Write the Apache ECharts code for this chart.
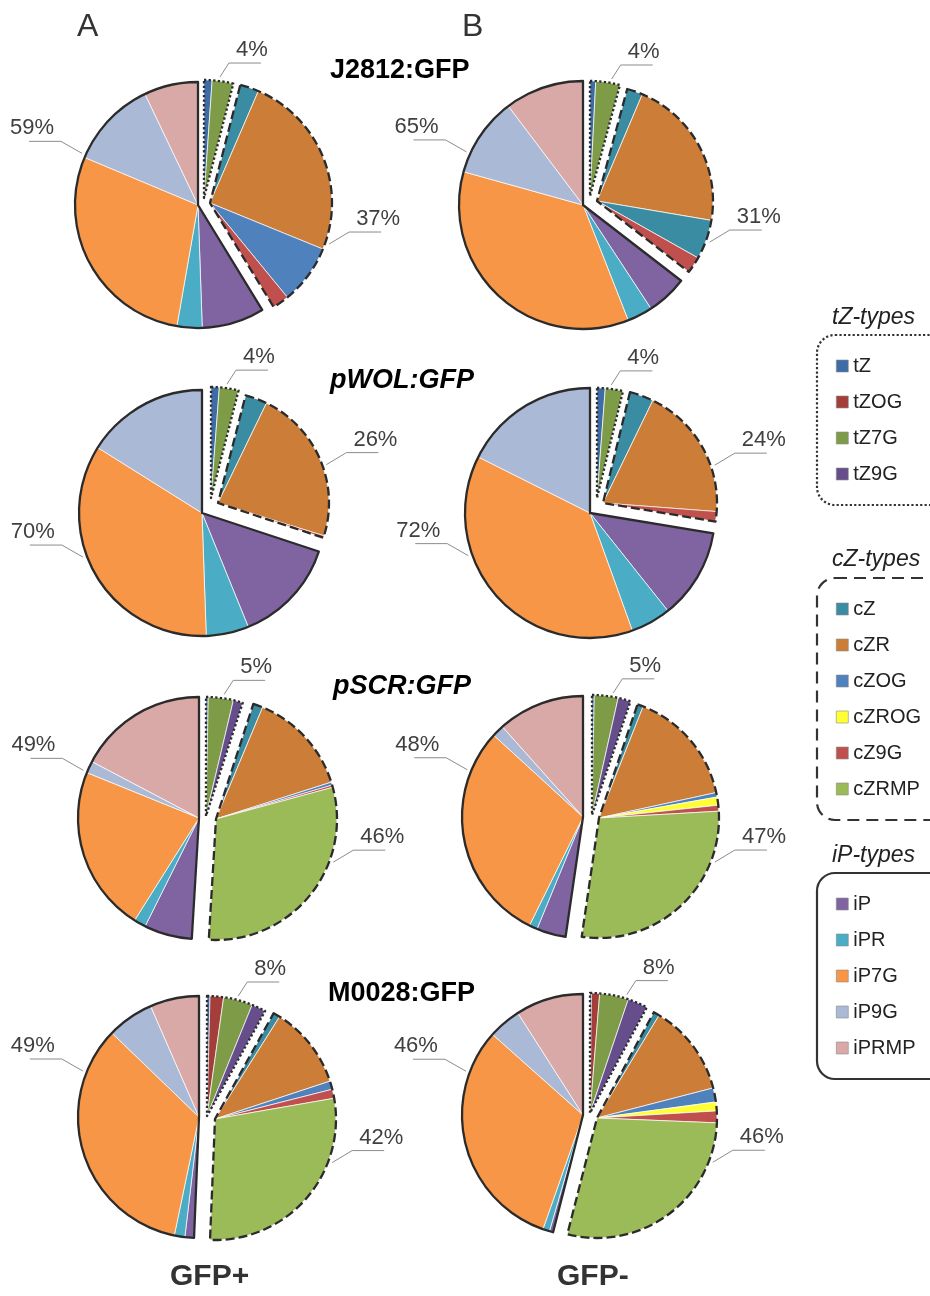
<!DOCTYPE html>
<html>
<head>
<meta charset="utf-8">
<script src="https://cdn.jsdelivr.net/npm/echarts@6/dist/echarts.min.js"></script>
<style>
  html, body { margin: 0; padding: 0; background: #fff; }
  #chart { width: 930px; height: 1296px; }
</style>
</head>
<body>
<div id="chart"></div>
<script>
const compounds = ['tZ', 'tZOG', 'tZ7G', 'tZ9G', 'cZ', 'cZR', 'cZOG', 'cZROG', 'cZ9G', 'cZRMP', 'iP', 'iPR', 'iP7G', 'iP9G', 'iPRMP'];
const groupNames = ['tZ-types', 'cZ-types', 'iP-types'];
const groupMembers = [
  ['tZ', 'tZOG', 'tZ7G', 'tZ9G'],
  ['cZ', 'cZR', 'cZOG', 'cZROG', 'cZ9G', 'cZRMP'],
  ['iP', 'iPR', 'iP7G', 'iP9G', 'iPRMP'],
];
const lineNames = ['J2812:GFP', 'pWOL:GFP', 'pSCR:GFP', 'M0028:GFP'];
const columnLetters = ['A', 'B'];
const sortNames = ['GFP+', 'GFP-'];

// share of total cytokinin (%), in the order of `compounds`
const j2812Pos = [1.1, 0, 2.9, 0, 2.5, 24.7, 7.9, 0, 2.2, 0, 8.2, 3.3, 28.6, 11.6, 7.1];
const j2812Neg = [0.8, 0, 3.4, 0, 2.2, 21.3, 5.5, 0, 2.3, 0, 5.3, 3.3, 35.3, 10.4, 10.3];
const pwolPos = [1.2, 0, 2.8, 0, 3.2, 22.6, 0, 0, 0.3, 0, 13.8, 5.6, 34.5, 16.1, 0];
const pwolNeg = [1.2, 0, 2.6, 0, 3.4, 19.0, 0, 0, 1.4, 0, 11.7, 5.2, 37.9, 17.6, 0];
const pscrPos = [0.3, 0, 3.4, 1.3, 1.3, 13.8, 0.4, 0, 0.3, 30.2, 6.4, 1.6, 22.2, 1.6, 17.3];
const pscrNeg = [0.3, 0, 3.2, 1.7, 0.8, 15.6, 0.6, 1.1, 0.8, 28.2, 3.9, 1.1, 29.5, 1.6, 11.6];
const m0028Pos = [0.4, 1.8, 3.9, 1.9, 0.9, 10.9, 1.1, 0, 1.2, 28.2, 1.2, 1.4, 33.7, 6.2, 6.5];
const m0028Neg = [0.2, 1.1, 3.9, 2.7, 0.8, 12.4, 1.9, 1.2, 1.6, 28.5, 0.5, 0.9, 31.4, 4.4, 9.1];
const values = [[j2812Pos, j2812Neg], [pwolPos, pwolNeg], [pscrPos, pscrNeg], [m0028Pos, m0028Neg]];

const colors = {
  tZ: '#3D6CA6', tZOG: '#A33E3B', tZ7G: '#7E9C48', tZ9G: '#654E8B',
  cZ: '#3A8CA3', cZR: '#CC7D37', cZOG: '#4F81BD', cZROG: '#FFFF33', cZ9G: '#C0504D', cZRMP: '#9BBB59',
  iP: '#8064A2', iPR: '#4BACC6', iP7G: '#F79646', iP9G: '#AAB9D6', iPRMP: '#D9A9A8',
};
// the cZOG wedge of J2812 GFP- is drawn in teal in the figure
const colorOverrides = [{ row: 0, col: 1, name: 'cZOG', color: '#3A8CA3' }];

// per pie, per group (tZ, cZ, iP): wedge tip x, y and radius in px
const pieGeom = [
  [[[204, 198, 118], [210, 203, 122], [198, 205, 123]],
   [[590, 196, 115], [597, 201, 116], [583, 205, 124]]],
  [[[211, 498, 111], [218, 503, 111], [202, 513, 123]],
   [[597, 498, 110], [603, 503, 114], [590, 513, 125]]],
  [[[206, 816, 119], [216, 819, 121], [199, 818, 121]],
   [[592, 815, 120], [599, 818, 120], [583, 817, 121]]],
  [[[207, 1116, 120], [215, 1119, 121], [199, 1117, 121]],
   [[590, 1113, 120], [597, 1118, 120], [583, 1115, 121]]],
];
// where each group's leader line leaves the pie (deg clockwise from 12 o'clock)
const labelAngles = [
  [[7.5, 109, 294], [10.5, 110, 294.5]],
  [[8, 70.5, 249.7], [7.2, 71.3, 250.7]],
  [[8.5, 110.2, 292.4], [9.9, 110.8, 292.2]],
  [[14.6, 110.4, 291.6], [17.3, 110.9, 290.5]],
];
const outlineDash = ['dotted', [9, 4], 'solid'];
const font = "'Liberation Sans', Arial, sans-serif";

const series = [];
values.forEach((rowVals, i) => {
  rowVals.forEach((vals, j) => {
    const total = vals.reduce((s, v) => s + v, 0);
    let acc = 0;
    groupMembers.forEach((members, g) => {
      const [gx, gy, gr] = pieGeom[i][j][g];
      const items = members
        .map((name) => ({ name, value: vals[compounds.indexOf(name)] }))
        .filter((it) => it.value > 0);
      const gsum = items.reduce((s, it) => s + it.value, 0);
      const startAngle = 90 - (360 * acc) / total;
      const endAngle = 90 - (360 * (acc + gsum)) / total;
      acc += gsum;

      series.push({
        type: 'pie',
        silent: true,
        animation: false,
        center: [gx, gy],
        radius: [0, gr],
        startAngle,
        endAngle,
        clockwise: true,
        label: { show: false },
        labelLine: { show: false },
        itemStyle: { borderColor: '#ffffff', borderWidth: 0.7 },
        data: items.map((it) => {
          const ov = colorOverrides.find((o) => o.row === i && o.col === j && o.name === it.name);
          return { name: it.name, value: it.value, itemStyle: { color: ov ? ov.color : colors[it.name] } };
        }),
      });

      const ang = (labelAngles[i][j][g] * Math.PI) / 180;
      const ax = gx + (gr + 4) * Math.sin(ang);
      const ay = gy - (gr + 4) * Math.cos(ang);
      const elbow = g === 2 ? [ax - 21, ay - 12] : g === 1 ? [ax + 20, ay - 12] : [ax + 9, ay - 14];
      const dir = g === 2 ? -1 : 1;
      const lineEnd = [elbow[0] + dir * 32, elbow[1]];

      series.push({
        type: 'pie',
        silent: true,
        animation: false,
        avoidLabelOverlap: false,
        center: [gx, gy],
        radius: [0, gr],
        startAngle,
        endAngle,
        clockwise: true,
        itemStyle: {
          color: 'rgba(0,0,0,0)',
          borderColor: '#2b2b2b',
          borderWidth: 2.3,
          borderType: outlineDash[g],
        },
        label: {
          show: true,
          position: 'outside',
          formatter: () => `${Math.round(gsum)}%`,
          fontSize: 22,
          color: '#404040',
          fontFamily: font,
        },
        labelLine: { show: true, lineStyle: { color: '#8c8c8c', width: 1 } },
        labelLayout: () => ({
          x: elbow[0] + (g === 2 ? -7 : 7),
          y: elbow[1] - 13,
          align: g === 2 ? 'right' : 'left',
          verticalAlign: 'middle',
          labelLinePoints: [[ax, ay], elbow, lineEnd],
        }),
        data: [{ name: groupNames[g], value: gsum }],
      });
    });
  });
});

const titles = [];
columnLetters.forEach((t, j) => {
  titles.push({ text: t, left: [77, 462][j], top: 11, padding: 0,
    textStyle: { fontSize: 32, fontWeight: 'normal', color: '#333', fontFamily: font } });
});
lineNames.forEach((t, i) => {
  titles.push({ text: t, left: [330, 330, 333, 328][i], top: [57, 367, 673, 980][i], padding: 0,
    textStyle: { fontSize: 27, fontWeight: 'bold', fontStyle: i === 1 || i === 2 ? 'italic' : 'normal', color: '#000', fontFamily: font } });
});
sortNames.forEach((t, j) => {
  titles.push({ text: t, left: [170, 557][j], top: 1262, padding: 0,
    textStyle: { fontSize: 30, fontWeight: 'bold', color: '#333', fontFamily: font } });
});
groupNames.forEach((t, g) => {
  titles.push({ text: t, left: 832, top: [306, 548, 844][g], padding: 0,
    textStyle: { fontSize: 23, fontWeight: 'normal', fontStyle: 'italic', color: '#222', fontFamily: font } });
});

const legends = groupMembers.map((names, g) => ({
  orient: 'vertical',
  left: 817,
  top: [335, 578, 873][g],
  data: names,
  icon: 'rect',
  itemWidth: 12,
  itemHeight: 12,
  itemGap: 16,
  padding: [21, 60, 21, 19],
  borderColor: '#333',
  borderWidth: 2.2,
  borderType: g === 0 ? 'dotted' : g === 1 ? [12, 7] : 'solid',
  borderRadius: 18,
  selectedMode: false,
  itemStyle: { borderColor: '#8a8a8a', borderWidth: 0.6 },
  textStyle: { fontSize: 20, lineHeight: 20, color: '#222', fontFamily: font },
}));

const chart = echarts.init(document.getElementById('chart'), null, { renderer: 'canvas' });
chart.setOption({
  backgroundColor: '#ffffff',
  animation: false,
  title: titles,
  legend: legends,
  series,
});
</script>
</body>
</html>
